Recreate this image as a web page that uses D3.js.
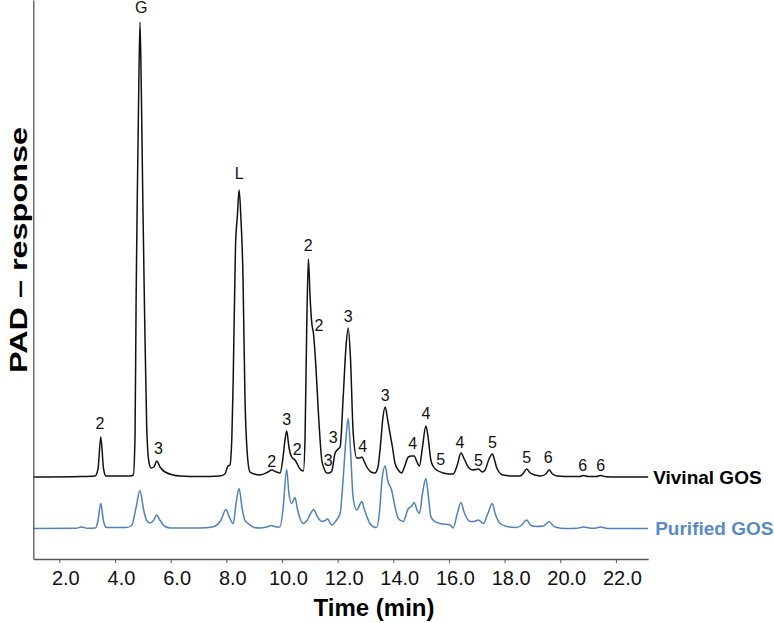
<!DOCTYPE html>
<html>
<head>
<meta charset="utf-8">
<script src="https://cdn.jsdelivr.net/npm/d3@7"></script>
<style>
  html, body { margin: 0; padding: 0; background: #fff; }
  svg { display: block; font-family: "Liberation Sans", Arial, sans-serif; }
</style>
</head>
<body>
<svg id="chart" width="774" height="623"></svg>
<script>
// ---- Data ----
const tickValues = [2, 4, 6, 8, 10, 12, 14, 16, 18, 20, 22];
const seriesNames = ["Vivinal GOS", "Purified GOS"];
const seriesOffsets = [82, 30.5]; // vertical stacking offset of each trace (response units)

// Vivinal GOS trace: time (min) and response above its own baseline
const vivinalTime = [1.07, 2.80, 3.28, 3.39, 3.49, 3.59, 3.68, 4.54, 4.66, 4.72, 4.76, 4.80, 4.85, 4.90, 4.95, 5.00, 5.06, 5.14, 5.22, 5.30, 5.40, 5.50, 5.62, 5.80, 6.34, 7.06, 7.77, 7.95, 8.06, 8.13, 8.20, 8.25, 8.33, 8.40, 8.46, 8.52, 8.60, 8.67, 8.75, 8.85, 9.00, 9.21, 9.50, 9.63, 9.80, 9.93, 10.04, 10.10, 10.17, 10.25, 10.35, 10.47, 10.55, 10.65, 10.77, 10.83, 10.89, 10.95, 11.01, 11.08, 11.13, 11.22, 11.31, 11.43, 11.52, 11.61, 11.70, 11.79, 11.91, 12.02, 12.09, 12.20, 12.30, 12.38, 12.46, 12.56, 12.69, 12.80, 12.87, 12.95, 13.05, 13.20, 13.34, 13.45, 13.55, 13.63, 13.71, 13.80, 13.88, 13.97, 14.06, 14.18, 14.30, 14.40, 14.54, 14.65, 14.75, 14.85, 14.94, 15.05, 15.17, 15.25, 15.35, 15.45, 15.56, 15.80, 16.04, 16.15, 16.30, 16.43, 16.55, 16.69, 16.85, 17.06, 17.20, 17.30, 17.44, 17.56, 17.64, 17.72, 17.94, 18.30, 18.55, 18.68, 18.79, 18.92, 19.10, 19.30, 19.48, 19.60, 19.72, 19.90, 20.40, 20.70, 20.83, 21.00, 21.30, 21.45, 21.65, 22.00, 23.16];
const vivinalValue = [0, 0.5, 1, 8, 40, 8, 1, 1, 2, 40, 180, 277, 380, 455, 380, 277, 170, 50, 15, 9, 10, 16, 10, 5, 1, 0.5, 1, 3, 11, 12, 40, 100, 230, 262, 287, 262, 200, 80, 25, 5, 3, 2, 5, 7, 5, 4, 20, 35, 46, 30, 20, 17, 13, 8, 6, 40, 150, 218, 180, 152, 144, 110, 64, 17, 8, 4, 4, 6, 24, 28, 30, 80, 130, 149, 120, 44, 19, 19, 20, 16, 10, 5, 4, 10, 35, 60, 70, 57, 44, 30, 14, 7, 4, 10, 20, 21, 21, 15, 11, 30, 51, 40, 17, 10, 7, 4, 3, 3, 12, 24, 18, 10, 7, 8, 5, 7, 18, 23, 17, 9, 2, 1, 1, 4, 8, 4, 2, 1, 3, 7, 3, 1, 0.5, 0.5, 1.5, 0.5, 0.5, 1.5, 0.3, 0, 0];

// Purified GOS trace
const purifiedTime = [1.07, 2.60, 2.80, 3.00, 3.30, 3.39, 3.49, 3.59, 3.70, 4.40, 4.60, 4.75, 4.90, 5.02, 5.14, 5.26, 5.38, 5.50, 5.62, 5.80, 6.00, 7.06, 7.50, 7.80, 7.99, 8.10, 8.25, 8.35, 8.46, 8.57, 8.67, 8.79, 9.00, 9.21, 9.45, 9.63, 9.80, 9.93, 10.04, 10.17, 10.25, 10.35, 10.47, 10.55, 10.65, 10.77, 10.90, 11.01, 11.14, 11.25, 11.43, 11.55, 11.64, 11.72, 11.79, 11.95, 12.09, 12.20, 12.30, 12.38, 12.46, 12.56, 12.69, 12.80, 12.87, 12.95, 13.05, 13.16, 13.30, 13.40, 13.50, 13.60, 13.71, 13.80, 13.94, 14.06, 14.18, 14.36, 14.54, 14.65, 14.75, 14.86, 14.94, 15.05, 15.17, 15.27, 15.35, 15.45, 15.68, 16.04, 16.15, 16.30, 16.43, 16.55, 16.76, 16.90, 17.06, 17.24, 17.40, 17.56, 17.66, 17.84, 18.08, 18.40, 18.60, 18.79, 18.95, 19.15, 19.40, 19.60, 19.75, 19.87, 20.20, 20.60, 20.83, 21.10, 21.30, 21.45, 21.70, 23.16];
const purifiedValue = [0, 0.3, 1.5, 0.3, 0.5, 8, 25, 7, 1, 1, 3, 20, 38, 20, 8, 5.5, 8, 13.5, 8, 2, 0.5, 0.5, 1.5, 8, 19, 12, 5, 25, 40, 20, 8, 5, 1, 0.5, 1.5, 3, 1.5, 1.5, 20, 59, 35, 25, 31, 20, 10, 5, 8, 14, 19, 13, 7, 8, 9.5, 6, 3.5, 8, 15, 50, 90, 110, 80, 30, 18.5, 24, 27, 20, 12, 5, 1.5, 1, 15, 50, 62.5, 48, 38.5, 22, 10, 7, 20, 22, 26, 18, 15, 35, 50, 30, 12, 8, 5, 3.5, 0.5, 15, 26, 16, 7, 7, 8.5, 5, 15, 25, 15, 5, 2, 1, 3, 8.5, 3, 2, 2.5, 7, 2.5, 1, 0, 0.3, 1.5, 0.3, 0.5, 1.5, 0, 0];

// Peak annotations on the Vivinal GOS trace (DP number, G = glucose, L = lactose)
const peakLabels = ["G", "2", "3", "L", "2", "3", "2", "2", "2", "3", "3", "3", "4", "3", "4", "4", "5", "4", "5", "5", "5", "6", "6", "6"];
const peakLabelTime = [4.94, 3.46, 5.56, 8.46, 9.63, 10.17, 10.55, 10.94, 11.33, 11.66, 11.84, 12.38, 12.90, 13.71, 14.70, 15.17, 15.70, 16.40, 17.06, 17.56, 18.79, 19.57, 20.81, 21.45];
const peakLabelValue = [470, 54, 29, 304, 16, 58, 28, 232, 152, 17, 40, 161, 31, 82, 34, 64, 18, 35, 17, 35, 20, 20, 12, 12];

const seriesColors = ["#111111", "#4f81bd"];
const legendColors = ["#000000", "#5a8ac6"];

// ---- Chart ----
const svg = d3.select("#chart");
const x = d3.scaleLinear().domain([1.065, 23.16]).range([33.3, 648.2]);
const y = d3.scaleLinear().domain([0, 559]).range([559, 0]);

const series = [
  { name: seriesNames[0], t: vivinalTime, v: vivinalValue, off: seriesOffsets[0] },
  { name: seriesNames[1], t: purifiedTime, v: purifiedValue, off: seriesOffsets[1] }
];

const line = d3.line()
  .x(d => x(d[0]))
  .y(d => y(d[1]))
  .curve(d3.curveMonotoneX);

// draw purified first so black sits on top
[1, 0].forEach(i => {
  const s = series[i];
  const pts = s.t.map((t, k) => [t, s.v[k] + s.off]);
  svg.append("path")
    .datum(pts)
    .attr("fill", "none")
    .attr("stroke", seriesColors[i])
    .attr("stroke-width", 1.5)
    .attr("stroke-linejoin", "round")
    .attr("d", line);
});

// axes
const xAxis = d3.axisBottom(x)
  .tickValues(tickValues)
  .tickFormat(d3.format(".1f"))
  .tickSize(4)
  .tickSizeOuter(0)
  .tickPadding(8);
const gx = svg.append("g").attr("transform", `translate(0,${y(0)})`).call(xAxis);
gx.select(".domain").attr("stroke", "#555").attr("stroke-width", 1.3);
gx.selectAll(".tick line").attr("stroke", "#555");
gx.selectAll(".tick text")
  .attr("font-size", 20)
  .attr("fill", "#111")
  .attr("dx", 6)
  .style("font-family", "'Liberation Sans', Arial, sans-serif");

const yAxis = d3.axisLeft(y).tickValues([]).tickSizeOuter(0);
const gy = svg.append("g").attr("transform", `translate(${x.range()[0]},0)`).call(yAxis);
gy.select(".domain").attr("stroke", "#555").attr("stroke-width", 1.3);

// axis titles
svg.append("text")
  .attr("x", 374).attr("y", 616)
  .attr("text-anchor", "middle")
  .attr("font-size", 24).attr("font-weight", "bold")
  .attr("fill", "#000")
  .text("Time (min)");

svg.append("text")
  .attr("transform", "translate(27,250) rotate(-90)")
  .attr("text-anchor", "middle")
  .attr("font-size", 24).attr("font-weight", "bold")
  .attr("textLength", 246)
  .attr("lengthAdjust", "spacingAndGlyphs")
  .attr("fill", "#000")
  .text("PAD – response");

// peak labels
svg.append("g").selectAll("text")
  .data(peakLabels)
  .join("text")
  .attr("x", (d, i) => x(peakLabelTime[i]))
  .attr("y", (d, i) => y(peakLabelValue[i] + seriesOffsets[0]))
  .attr("dy", "0.36em")
  .attr("text-anchor", "middle")
  .attr("font-size", 16)
  .attr("fill", "#111")
  .text(d => d);

// series legend labels at the end of each trace
series.forEach((s, i) => {
  svg.append("text")
    .attr("x", x.range()[1] + 5 + i * 2)
    .attr("y", y(s.off))
    .attr("dy", "0.36em")
    .attr("font-size", 19).attr("font-weight", "bold")
    .attr("fill", legendColors[i])
    .text(s.name);
});
</script>
</body>
</html>
